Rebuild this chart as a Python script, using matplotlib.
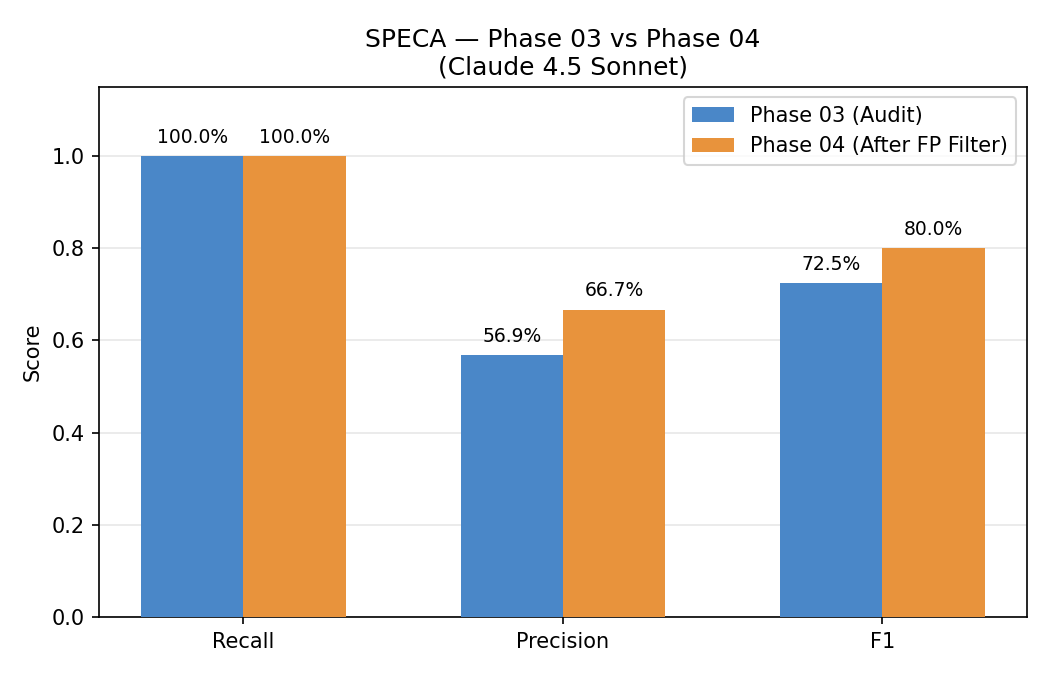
import numpy as np
import matplotlib.pyplot as plt

metrics = ["Recall", "Precision", "F1"]
phase03 = [1.0, 0.569, 0.725]
phase04 = [1.0, 0.667, 0.800]
labels = ["Phase 03 (Audit)", "Phase 04 (After FP Filter)"]

barWidth = 0.32
x = np.arange(len(metrics))

fig, ax = plt.subplots(figsize=(7, 4.5), dpi=150)
b1 = ax.bar(x - barWidth / 2, phase03, width=barWidth, color="#4a87c8", label=labels[0], zorder=3)
b2 = ax.bar(x + barWidth / 2, phase04, width=barWidth, color="#e8933c", label=labels[1], zorder=3)

for bars in (b1, b2):
    for b in bars:
        h = b.get_height()
        ax.text(b.get_x() + b.get_width() / 2, h + 0.02, f"{h * 100:.1f}%",
                ha="center", va="bottom", fontsize=9)

ax.set_xticks(x)
ax.set_xticklabels(metrics)
ax.set_ylabel("Score")
ax.set_ylim(0, 1.15)
ax.set_title("SPECA \u2014 Phase 03 vs Phase 04\n(Claude 4.5 Sonnet)")
ax.yaxis.grid(True, alpha=0.3, zorder=0)
ax.legend(loc="upper right")
fig.subplots_adjust(left=0.0943, right=0.978, top=0.871, bottom=0.086)
plt.savefig("out.png", dpi=150)
